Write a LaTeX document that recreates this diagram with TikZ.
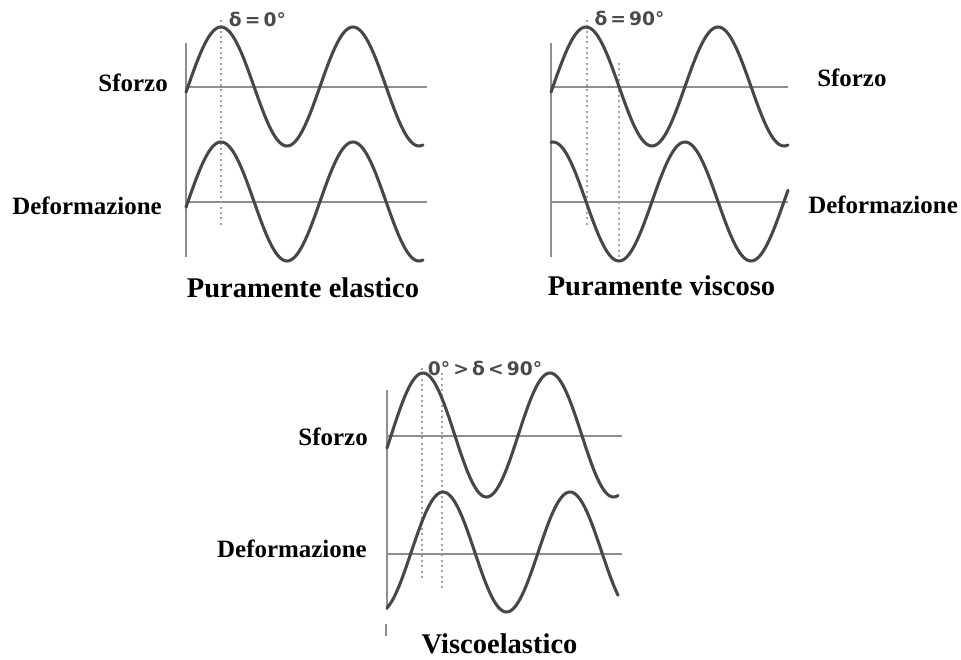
\documentclass[tikz,border=0pt]{standalone}
\usepackage{fontspec}
\setmainfont{Liberation Serif}
\newfontfamily\deltafont{DejaVu Sans}
\definecolor{wavegray}{HTML}{474747}
\definecolor{axisgray}{HTML}{8E8E8E}
\definecolor{guidegray}{HTML}{A2A2A2}
\definecolor{lblgray}{HTML}{4A4A4A}
\begin{document}
\begin{tikzpicture}[x=0.75pt,y=-0.75pt,
  wave/.style={draw=wavegray, line width=2.3pt, line cap=round},
  hline/.style={draw=axisgray, line width=1.9pt},
  vline/.style={draw=axisgray, line width=1.7pt},
  guide/.style={draw=guidegray, line width=1.5pt, dash pattern=on 1.6pt off 2.4pt},
  lbl/.style={font=\fontsize{18.7}{20}\selectfont\bfseries, inner sep=0pt},
  ttl/.style={font=\fontsize{21.4}{23}\selectfont\bfseries, inner sep=0pt},
  dlbl/.style={font=\deltafont\fontsize{14}{16}\selectfont\bfseries, text=lblgray, inner sep=0pt}]
\useasboundingbox (0,0) rectangle (961,660);

% ---------- Panel 1: Puramente elastico ----------
\coordinate (a1t) at (186,43); \coordinate (a1b) at (186,257);
\draw[vline] (a1t) -- (a1b);
\coordinate (h1a) at (186,87); \coordinate (h1b) at (427,87);
\coordinate (h1c) at (186,202); \coordinate (h1d) at (427,202);
\draw[hline] (h1a) -- (h1b);
\draw[hline] (h1c) -- (h1d);
\coordinate (g1t) at (221,20); \coordinate (g1b) at (221,227);
\draw[guide] (g1t) -- (g1b);
\draw[wave] plot[domain=186:423, samples=140, smooth] (\x, {86.5-59.5*sin((\x-188)/132*360)});
\draw[wave] plot[domain=186:423, samples=140, smooth] (\x, {201.5-59.5*sin((\x-188)/132*360)});
\node[lbl, anchor=base east] (s1) at (168,92) {Sforzo};
\node[lbl, anchor=base west] (d1) at (12,214) {Deformazione};
\node[ttl, anchor=base] (t1) at (303,297) {Puramente elastico};
\node[dlbl] (e1) at (257.5,19) {δ\,=\,0°};

% ---------- Panel 2: Puramente viscoso ----------
\coordinate (a2t) at (551,43); \coordinate (a2b) at (551,257);
\draw[vline] (a2t) -- (a2b);
\coordinate (h2a) at (551,87); \coordinate (h2b) at (788,87);
\coordinate (h2c) at (551,202); \coordinate (h2d) at (788,202);
\draw[hline] (h2a) -- (h2b);
\draw[hline] (h2c) -- (h2d);
\coordinate (g2t) at (587,20); \coordinate (g2b) at (587,227);
\coordinate (g3t) at (619,63); \coordinate (g3b) at (619,260);
\draw[guide] (g2t) -- (g2b);
\draw[guide] (g3t) -- (g3b);
\draw[wave] plot[domain=551:788, samples=140, smooth] (\x, {86.5-59.5*sin((\x-553)/132*360)});
\draw[wave] plot[domain=551:788, samples=140, smooth] (\x, {201.5-59.5*cos((\x-553)/132*360)});
\node[lbl, anchor=base west] (s2) at (817,87) {Sforzo};
\node[lbl, anchor=base west] (d2) at (808,213) {Deformazione};
\node[ttl, anchor=base] (t2) at (661.5,295) {Puramente viscoso};
\node[dlbl] (e2) at (629.5,18) {δ\,=\,90°};

% ---------- Panel 3: Viscoelastico ----------
\coordinate (a3t) at (387,390); \coordinate (a3b) at (387,610);
\draw[vline] (a3t) -- (a3b);
\coordinate (k3t) at (386,624); \coordinate (k3b) at (386,636);
\draw[axisgray, line width=1pt] (k3t) -- (k3b);
\coordinate (h3a) at (387,436); \coordinate (h3b) at (622,436);
\coordinate (h3c) at (387,554); \coordinate (h3d) at (622,554);
\draw[hline] (h3a) -- (h3b);
\draw[hline] (h3c) -- (h3d);
\coordinate (g4t) at (422,368); \coordinate (g4b) at (422,578);
\coordinate (g5t) at (442,373); \coordinate (g5b) at (442,588);
\draw[guide] (g4t) -- (g4b);
\draw[guide] (g5t) -- (g5b);
\draw[wave] plot[domain=387:618, samples=140, smooth] (\x, {435-62*sin((\x-391.25)/127*360)});
\draw[wave] plot[domain=387:618, samples=140, smooth] (\x, {552-60*sin((\x-411.25)/127*360)});
\node[lbl, anchor=base east] (s3) at (368,445) {Sforzo};
\node[lbl, anchor=base east] (d3) at (367,557) {Deformazione};
\node[ttl, anchor=base] (t3) at (499.5,653) {Viscoelastico};
\node[dlbl] (e3) at (485,368) {0°\,>\,δ\,<\,90°};
\end{tikzpicture}
\end{document}
